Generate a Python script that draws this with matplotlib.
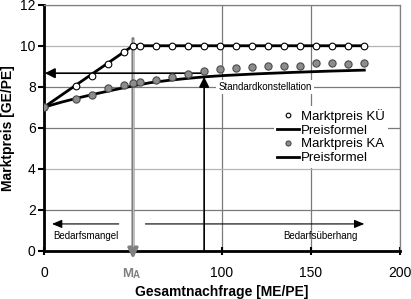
import matplotlib
matplotlib.use("Agg")
import matplotlib.pyplot as plt

plt.rcParams['font.family'] = ['Liberation Sans', 'DejaVu Sans']

# Marktpreis bei Kapazitätsüberhang (KÜ)
kue_x = [0, 18, 27, 36, 45, 50, 54, 63, 72, 81, 90, 99, 108, 117, 126, 135, 144, 153, 162, 171, 180]
kue_y = [7.0, 8.05, 8.54, 9.1, 9.7, 10, 10, 10, 10, 10, 10, 10, 10, 10, 10, 10, 10, 10, 10, 10, 10]
kue_formel_x = [0, 50, 180]
kue_formel_y = [7.0, 10.0, 10.0]

# Marktpreis bei Kapazitätsausgleich (KA)
ka_x = [0, 18, 27, 36, 45, 50, 54, 63, 72, 81, 90, 99, 108, 117, 126, 135, 144, 153, 162, 171, 180]
ka_y = [7.0, 7.41, 7.6, 7.92, 8.08, 8.18, 8.25, 8.33, 8.45, 8.64, 8.75, 8.87, 8.92, 8.95, 8.99, 8.99, 9.02, 9.15, 9.18, 9.1, 9.18]
ka_formel_x = [0, 10, 20, 30, 40, 50, 60, 70, 80, 90, 100, 120, 140, 160, 180]
ka_formel_y = [7.0, 7.25, 7.47, 7.67, 7.86, 8.04, 8.2, 8.31, 8.4, 8.48, 8.54, 8.63, 8.7, 8.76, 8.81]

m_a = 50
standard_x = 90
standard_y = 8.48
standard_price = 8.66

xticks = [0, 100, 150, 200]
yticks = [0, 2, 4, 6, 8, 10, 12]

fig = plt.figure(figsize=(4.11, 2.99), dpi=100)
ax = fig.add_axes([0.107, 0.162, 0.866, 0.822])
ax.set_xlim(0, 200)
ax.set_ylim(0, 12)

# grid
ax.set_yticks(yticks)
ax.set_xticks(xticks)
ax.grid(True, color='#7a7a7a', lw=0.9)
for gl, v in zip(ax.get_ygridlines(), yticks):
    if v in (4, 10):
        gl.set_color('#b5b5b5')
ax.set_axisbelow(True)

for s in ('top', 'right'):
    ax.spines[s].set_color('#808080')
    ax.spines[s].set_linewidth(0.9)
for s in ('left', 'bottom'):
    ax.spines[s].set_color('black')
    ax.spines[s].set_linewidth(2)

ax.tick_params(axis='y', direction='out', length=4, width=1.5, labelsize=10, pad=2)
ax.tick_params(axis='x', direction='inout', length=6, width=1.5, labelsize=10, pad=8)

# M_A marker line
ax.annotate('', xy=(m_a, -0.4), xytext=(m_a, 10.35), annotation_clip=False,
            arrowprops=dict(arrowstyle='-|>,head_length=0.6,head_width=0.3',
                            color='#808080', lw=2.2, shrinkA=0, shrinkB=0))
ax.plot([m_a, m_a], [0.2, 10.3], color='#c8c8c8', lw=0.6, zorder=3)
ax.text(m_a, -0.85, 'M', color='#808080', fontsize=9.5, fontweight='bold',
        ha='right', va='top', clip_on=False)
ax.text(m_a, -0.95, 'A', color='#808080', fontsize=7, fontweight='bold',
        ha='left', va='top', clip_on=False)

# Standardkonstellation
ax.annotate('', xy=(standard_x, standard_y), xytext=(standard_x, 0),
            arrowprops=dict(arrowstyle='-|>,head_length=0.6,head_width=0.3',
                            color='black', lw=1.2, shrinkA=0, shrinkB=0), zorder=5)
ax.annotate('', xy=(0.5, standard_price), xytext=(standard_x, standard_price),
            arrowprops=dict(arrowstyle='-|>,head_length=0.6,head_width=0.3',
                            color='black', lw=1.2, shrinkA=0, shrinkB=0), zorder=5)
ax.text(98, 8.0, 'Standardkonstellation', fontsize=7, ha='left', va='center',
        bbox=dict(facecolor='white', edgecolor='none', pad=1.5), zorder=4)

# Bedarfsmangel / Bedarfsüberhang
ax.annotate('', xy=(4.5, 1.3), xytext=(42, 1.3),
            arrowprops=dict(arrowstyle='-|>,head_length=0.6,head_width=0.25',
                            color='black', lw=0.8, shrinkA=0, shrinkB=0))
ax.annotate('', xy=(180, 1.3), xytext=(57, 1.3),
            arrowprops=dict(arrowstyle='-|>,head_length=0.6,head_width=0.25',
                            color='black', lw=0.8, shrinkA=0, shrinkB=0))
ax.text(5, 0.72, 'Bedarfsmangel', fontsize=7, ha='left', va='center')
ax.text(176, 0.72, 'Bedarfsüberhang', fontsize=7, ha='right', va='center')

# data
l1, = ax.plot(kue_formel_x, kue_formel_y, color='black', lw=2, zorder=6)
p1, = ax.plot(kue_x, kue_y, 'o', ms=4.8, mfc='white', mec='black', mew=0.8, zorder=7)
l2, = ax.plot(ka_formel_x, ka_formel_y, color='black', lw=2, zorder=6)
p2, = ax.plot(ka_x, ka_y, 'o', ms=5.2, mfc='#8c8c8c', mec='#4a4a4a', mew=0.8, zorder=7)

leg = ax.legend([p1, l1, p2, l2],
                ['Marktpreis KÜ', 'Preisformel', 'Marktpreis KA', 'Preisformel'],
                loc='upper left', bbox_to_anchor=(0.645, 0.59), fontsize=9.5,
                frameon=True, fancybox=False, facecolor='white', edgecolor='none',
                framealpha=1, borderpad=0.25, borderaxespad=0, handlelength=1.65,
                handletextpad=0.15, labelspacing=0.12, markerscale=0.7)
leg.set_zorder(3)

ax.set_xlabel('Gesamtnachfrage [ME/PE]', fontsize=10, fontweight='bold', labelpad=4)
ax.set_ylabel('Marktpreis [GE/PE]', fontsize=10, fontweight='bold', labelpad=4)

fig.savefig('out.png', dpi=100)
